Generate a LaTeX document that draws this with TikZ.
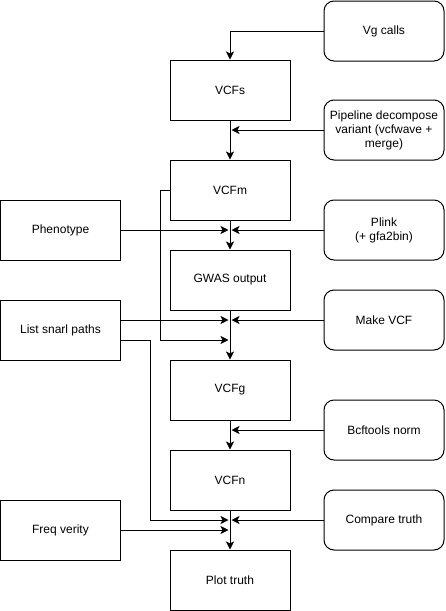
\documentclass[tikz,border=0pt]{standalone}
\usepackage{fontspec}
\setmainfont{Liberation Sans}
\usetikzlibrary{arrows.meta}
\begin{document}
\begin{tikzpicture}[x=1pt,y=-1pt,
  box/.style={draw=black,line width=1pt,minimum width=120pt,minimum height=60pt,inner sep=0pt,align=center,font=\fontsize{12}{14}\selectfont},
  rbox/.style={box,rounded corners=10pt},
  conn/.style={draw=black,line width=1pt},
  arr/.style={conn,-{Stealth[length=8pt,width=8pt,inset=2pt]}}]
\useasboundingbox (0,0) rectangle (445,611);
% main column
\node[box] (vcfs) at (230,90) {VCFs};
\node[box] (vcfm) at (230,190) {VCFm};
\node[box] (gwas) at (230,280) {GWAS output};
\node[box] (vcfg) at (230,390) {VCFg};
\node[box] (vcfn) at (230,480) {VCFn};
\node[box] (plot) at (230,580) {Plot truth};
% left
\node[box] (pheno) at (60.5,230) {Phenotype};
\node[box] (snarl) at (60.5,330) {List snarl paths};
\node[box] (freq) at (60.5,530) {Freq verity};
% right
\node[rbox] (vg) at (384,31) {Vg calls};
\node[rbox] (pipe) at (384,130) {Pipeline decompose\\variant (vcfwave +\\merge)};
\node[rbox] (plink) at (384,230) {Plink\\(+ gfa2bin)};
\node[rbox] (mkvcf) at (384,320) {Make VCF};
\node[rbox] (bcf) at (384,430) {Bcftools norm};
\node[rbox] (cmp) at (384,520) {Compare truth};
% junction coordinates
\coordinate (jpL) at (228,130);
\coordinate (jpR) at (231.5,130);
\coordinate (j1L) at (228.5,230);
\coordinate (j1R) at (231.5,230);
\coordinate (j2L) at (228.5,320);
\coordinate (j2R) at (231.5,320);
\coordinate (j2B) at (228.5,340);
\coordinate (j3R) at (231.5,430);
\coordinate (j4L) at (228.5,520);
\coordinate (j4R) at (231.5,520);
\coordinate (j4B) at (228.5,530);
\coordinate (loopA) at (160,190);
\coordinate (loopB) at (160,340);
\coordinate (snA) at (120.5,340);
\coordinate (snB) at (150,340);
\coordinate (snC) at (150,520);
% vertical spine
\draw[arr] (vg.west) -| (vcfs.north);
\draw[arr] (vcfs.south) -- (vcfm.north);
\draw[arr] (vcfm.south) -- (gwas.north);
\draw[arr] (gwas.south) -- (vcfg.north);
\draw[arr] (vcfg.south) -- (vcfn.north);
\draw[arr] (vcfn.south) -- (plot.north);
% side inputs
\draw[arr] (pipe.west) -- (jpR);
\draw[arr] (pheno.east) -- (j1L);
\draw[arr] (plink.west) -- (j1R);
\draw[arr] (snarl.east |- j2L) -- (j2L);
\draw[arr] (mkvcf.west) -- (j2R);
\draw[arr] (vcfm.west) -- (loopA) -- (loopB) -- (j2B);
\draw[arr] (bcf.west) -- (j3R);
\draw[arr] (snA) -- (snB) -- (snC) -- (j4L);
\draw[arr] (cmp.west) -- (j4R);
\draw[arr] (freq.east) -- (j4B);
\end{tikzpicture}
\end{document}
